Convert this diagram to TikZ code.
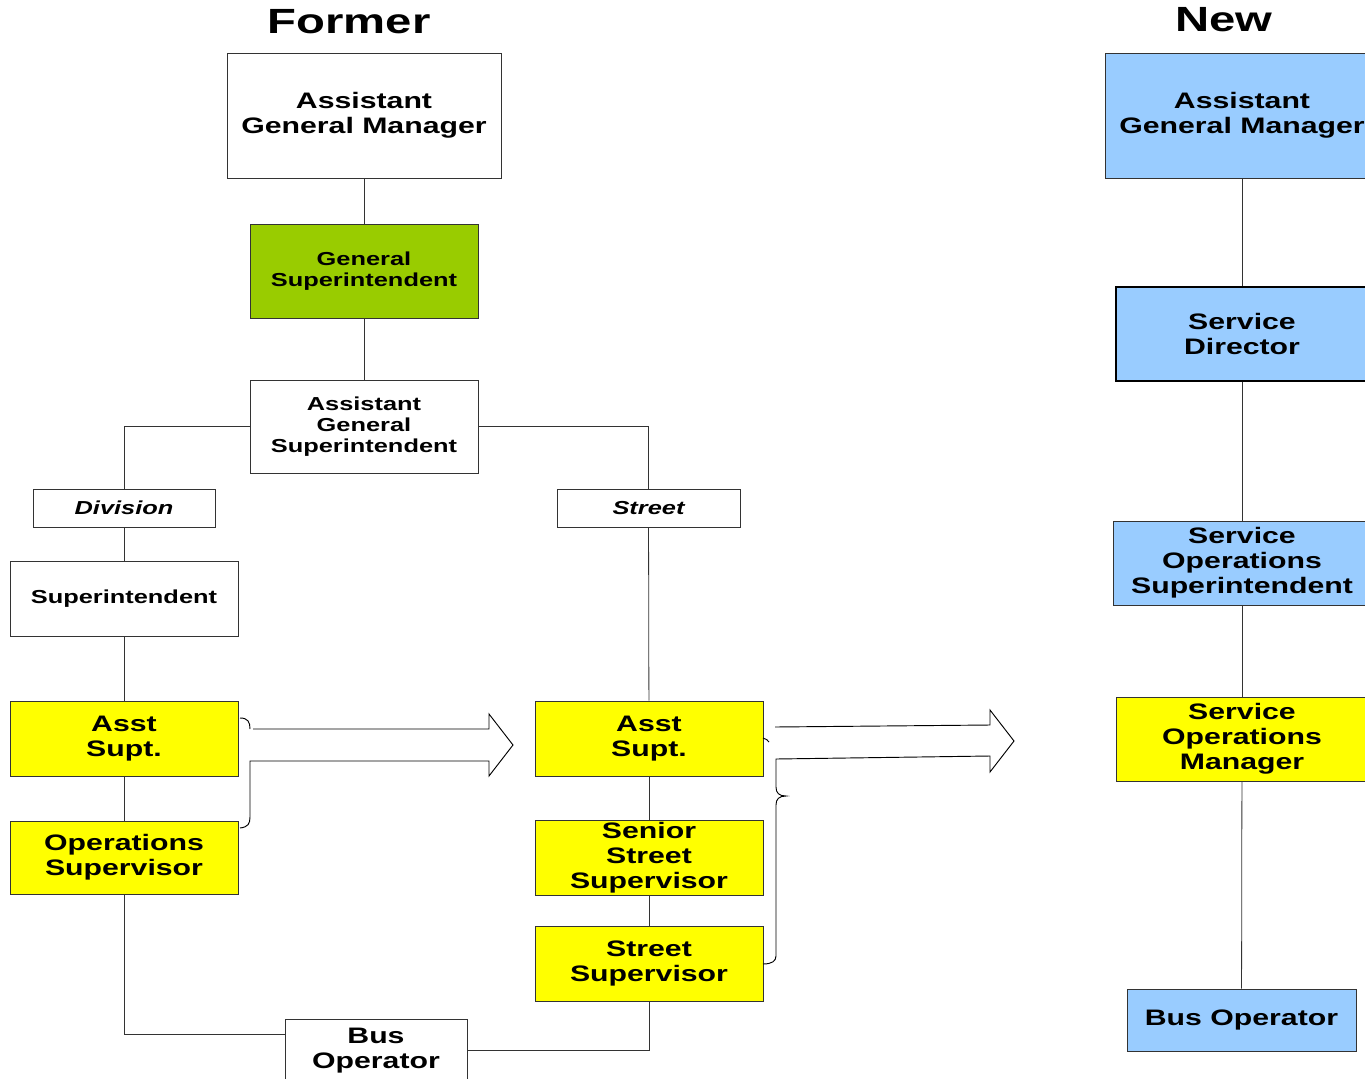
\documentclass[tikz,border=0pt]{standalone}
\usepackage{fontspec}
\setmainfont{Liberation Sans}[FakeStretch=1.35]
\usetikzlibrary{calc}
\definecolor{boxyellow}{HTML}{FFFF00}
\definecolor{boxgreen}{HTML}{99CC00}
\definecolor{boxblue}{HTML}{99CCFF}
\definecolor{linegray}{HTML}{333333}
\begin{document}
\begin{tikzpicture}[x=0.75pt,y=-0.75pt,
  bigtext/.style={font=\fontsize{16.8}{18.75}\selectfont\bfseries},
  smalltext/.style={font=\fontsize{14.1}{15.75}\selectfont\bfseries},
  titletext/.style={font=\fontsize{26.25}{30}\selectfont\bfseries},
  orgbox/.style={draw=linegray, line width=0.6pt, inner sep=0pt, align=center, minimum width=171pt, minimum height=56.25pt},
  conn/.style={draw=linegray, line width=0.6pt},
  fat/.style={draw=black, line width=0.7pt, line join=miter}
]
\useasboundingbox (0,0) rectangle (1365,1079);
\clip (0,0) rectangle (1365,1079);

% titles
\node[titletext] (tformer) at (349,22) {Former};
\node[titletext] (tnew) at (1224,20) {New};

% former column
\node[orgbox, bigtext, fill=white, minimum width=205.5pt, minimum height=93.75pt] (agm1) at (364,115.5) {Assistant\\General Manager};
\node[orgbox, smalltext, fill=boxgreen, minimum height=70.5pt] (gensup) at (364,271) {General\\Superintendent};
\node[orgbox, smalltext, fill=white, minimum height=69.75pt] (ags) at (364,426.5) {Assistant\\General\\Superintendent};
\node[orgbox, smalltext, minimum width=136.5pt, minimum height=28.5pt] (div) at (124,508) {\itshape Division};
\node[orgbox, smalltext, minimum width=137.25pt, minimum height=28.5pt] (street) at (648.5,508) {\itshape Street};
\node[orgbox, smalltext] (sup) at (124,598.5) {Superintendent};
\node[orgbox, bigtext, fill=boxyellow] (as1) at (124,738.5) {Asst\\Supt.};
\node[orgbox, bigtext, fill=boxyellow, minimum height=54.75pt] (ops) at (124,857.5) {Operations\\Supervisor};
\node[orgbox, bigtext, fill=boxyellow] (as2) at (649,738.5) {Asst\\Supt.};
\node[orgbox, bigtext, fill=boxyellow] (sss) at (649,857.5) {Senior\\Street\\Supervisor};
\node[orgbox, bigtext, fill=boxyellow] (ss) at (649,963.5) {Street\\Supervisor};
\node[orgbox, bigtext, fill=white, minimum width=136.5pt, minimum height=47.25pt] (bus1) at (376,1050.5) {Bus\\Operator};

% new column
\node[orgbox, bigtext, fill=boxblue, minimum width=205.5pt, minimum height=93.75pt] (agm2) at (1242,115.5) {Assistant\\General Manager};
\node[orgbox, bigtext, fill=boxblue, draw=black, line width=2pt, minimum width=189pt, minimum height=70.5pt] (sd) at (1242,334) {Service\\Director};
\node[orgbox, bigtext, fill=boxblue, minimum width=193.5pt, minimum height=63pt] (sos) at (1242,563) {Service\\Operations\\Superintendent};
\node[orgbox, bigtext, fill=boxyellow, minimum width=189pt, minimum height=63pt] (som) at (1242,739) {Service\\Operations\\Manager};
\node[orgbox, bigtext, fill=boxblue, minimum width=171.75pt, minimum height=46.5pt] (bus2) at (1241.5,1020) {Bus Operator};

% connectors former
\draw[conn] (agm1) -- (gensup);
\draw[conn] (gensup) -- (ags);
\draw[conn] (ags.west) -| (div.north);
\draw[conn] (ags.east) -| (street.north);
\draw[conn] (div) -- (sup);
\draw[conn] (sup) -- (as1);
\draw[conn] (as1) -- (ops);
\draw[conn] (ops.south) |- ([yshift=-12pt]bus1.north west);
\draw[conn] (street) -- (as2);
\draw[conn] (as2) -- (sss);
\draw[conn] (sss) -- (ss);
\draw[conn] (ss.south) |- (bus1.east);

% connectors new
\draw[conn] (agm2) -- (sd);
\draw[conn] (sd) -- (sos);
\draw[conn] (sos) -- (som);
\draw[conn] (som) -- (bus2);

% brace + block arrow 1
\draw[fat] (240,718) .. controls (248,718) and (250,722) .. (250,729);
\draw[fat] (253,729) -- (489,729) -- (489,714) -- (513,745) -- (489,776) -- (489,761) -- (250,761) -- (250,817)
  .. controls (250,824) and (248,827) .. (240,828);

% brace + block arrow 2
\draw[fat] (763,738) .. controls (766,739) and (768,740) .. (769,742);
\draw[fat] (775,727) -- (990,725) -- (990,710) -- (1014,741) -- (990,772) -- (990,756) -- (776,759) -- (776,787)
  .. controls (776,793) and (779,796) .. (786,796)
  .. controls (779,796) and (776,799) .. (776,805)
  -- (776,956) .. controls (776,961) and (772,964) .. (763,964);
\end{tikzpicture}
\end{document}
